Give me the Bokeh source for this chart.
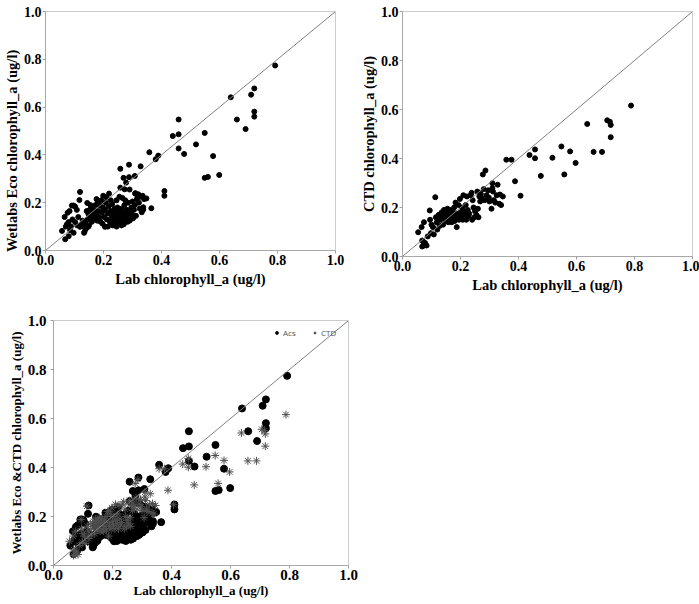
from bokeh.plotting import figure
from bokeh.layouts import column, row
from bokeh.models import Range1d, FixedTicker, PrintfTickFormatter, Slope, Legend, LegendItem
from bokeh.embed import file_html
from bokeh.resources import INLINE

# ---------------- data ----------------
eco_points = [
    (0.792, 0.774), (0.720, 0.678), (0.709, 0.652), (0.720, 0.581), (0.720, 0.560),
    (0.639, 0.641), (0.660, 0.548), (0.690, 0.508), (0.549, 0.492), (0.519, 0.444),
    (0.578, 0.395), (0.549, 0.304), (0.560, 0.308), (0.599, 0.316), (0.459, 0.548),
    (0.459, 0.486), (0.439, 0.479), (0.459, 0.427), (0.478, 0.404), (0.358, 0.411),
    (0.380, 0.382), (0.389, 0.397), (0.410, 0.249), (0.410, 0.229), (0.365, 0.177),
    (0.348, 0.218), (0.337, 0.181), (0.337, 0.171), (0.328, 0.352), (0.288, 0.359),
    (0.258, 0.342), (0.288, 0.307), (0.308, 0.312), (0.269, 0.304), (0.278, 0.284),
    (0.258, 0.263), (0.273, 0.256), (0.290, 0.255), (0.309, 0.238), (0.318, 0.233),
    (0.335, 0.229),
    (0.057, 0.082), (0.068, 0.047), (0.080, 0.060), (0.066, 0.140), (0.074, 0.110),
    (0.080, 0.119), (0.076, 0.158), (0.085, 0.085), (0.097, 0.074), (0.091, 0.188),
    (0.097, 0.188), (0.102, 0.184), (0.108, 0.170), (0.117, 0.211), (0.119, 0.245),
    (0.102, 0.119), (0.110, 0.105), (0.119, 0.099), (0.088, 0.100), (0.070, 0.100),
    (0.093, 0.130), (0.083, 0.165), (0.113, 0.140),
    (0.131, 0.101), (0.140, 0.092), (0.133, 0.074), (0.135, 0.080), (0.144, 0.199),
    (0.148, 0.153), (0.156, 0.140), (0.165, 0.147), (0.159, 0.181), (0.170, 0.167),
    (0.180, 0.208), (0.188, 0.188), (0.125, 0.110), (0.128, 0.125), (0.138, 0.115),
    (0.145, 0.130), (0.150, 0.105), (0.152, 0.170), (0.160, 0.120), (0.162, 0.160),
    (0.168, 0.135), (0.172, 0.190), (0.175, 0.150), (0.178, 0.125), (0.182, 0.165),
    (0.185, 0.140), (0.190, 0.120), (0.192, 0.210), (0.195, 0.160), (0.198, 0.180),
    (0.142, 0.165), (0.155, 0.190), (0.176, 0.215), (0.148, 0.100),
    (0.199, 0.229), (0.210, 0.222), (0.205, 0.099), (0.197, 0.112), (0.219, 0.238),
    (0.202, 0.140), (0.205, 0.170), (0.208, 0.200), (0.212, 0.130), (0.215, 0.155),
    (0.218, 0.185), (0.222, 0.120), (0.225, 0.165), (0.228, 0.140), (0.230, 0.195),
    (0.232, 0.105), (0.235, 0.150), (0.238, 0.175), (0.240, 0.125), (0.242, 0.160),
    (0.245, 0.140), (0.248, 0.180), (0.250, 0.110), (0.252, 0.130), (0.255, 0.165),
    (0.258, 0.150), (0.260, 0.120), (0.262, 0.175), (0.265, 0.140), (0.268, 0.160),
    (0.270, 0.110), (0.272, 0.190), (0.275, 0.130), (0.278, 0.150), (0.280, 0.170),
    (0.283, 0.120), (0.285, 0.200), (0.288, 0.140), (0.290, 0.160), (0.293, 0.130),
    (0.296, 0.180), (0.298, 0.150), (0.245, 0.210), (0.255, 0.225), (0.265, 0.220),
    (0.275, 0.210), (0.225, 0.210), (0.215, 0.100), (0.235, 0.120), (0.262, 0.105),
    (0.245, 0.100), (0.270, 0.145), (0.290, 0.125),
    (0.300, 0.205), (0.305, 0.170), (0.308, 0.190), (0.312, 0.145), (0.315, 0.215),
    (0.318, 0.230), (0.322, 0.200), (0.325, 0.175), (0.328, 0.225), (0.332, 0.160),
    (0.302, 0.135), (0.310, 0.240), (0.320, 0.235), (0.340, 0.215),
]

ctd_points = [
    (0.788, 0.616), (0.706, 0.556), (0.715, 0.550), (0.718, 0.537), (0.718, 0.487),
    (0.637, 0.541), (0.659, 0.427), (0.688, 0.427), (0.548, 0.449), (0.578, 0.429),
    (0.597, 0.382), (0.517, 0.403), (0.558, 0.335), (0.477, 0.329), (0.457, 0.437),
    (0.457, 0.401), (0.438, 0.414), (0.388, 0.307), (0.407, 0.248), (0.358, 0.395),
    (0.376, 0.395),
    (0.054, 0.099), (0.066, 0.120), (0.074, 0.140), (0.068, 0.065), (0.074, 0.045),
    (0.083, 0.045), (0.068, 0.041), (0.087, 0.082), (0.078, 0.055), (0.072, 0.060),
    (0.094, 0.188), (0.095, 0.150), (0.100, 0.130), (0.098, 0.095), (0.105, 0.120),
    (0.108, 0.090), (0.113, 0.242), (0.115, 0.160), (0.118, 0.140), (0.120, 0.110),
    (0.125, 0.170), (0.128, 0.125), (0.130, 0.150), (0.135, 0.180), (0.138, 0.160),
    (0.140, 0.130), (0.143, 0.190), (0.145, 0.170), (0.148, 0.145), (0.150, 0.185),
    (0.153, 0.160), (0.155, 0.195), (0.158, 0.140), (0.160, 0.175), (0.163, 0.190),
    (0.165, 0.150), (0.168, 0.165), (0.170, 0.140), (0.173, 0.185), (0.175, 0.160),
    (0.178, 0.200), (0.180, 0.145), (0.183, 0.220), (0.185, 0.175), (0.187, 0.120),
    (0.190, 0.160), (0.193, 0.210), (0.195, 0.150), (0.198, 0.235), (0.200, 0.180),
    (0.203, 0.165), (0.205, 0.200), (0.208, 0.150), (0.210, 0.250), (0.212, 0.185),
    (0.215, 0.170), (0.218, 0.210), (0.220, 0.150), (0.222, 0.245), (0.225, 0.190),
    (0.228, 0.165), (0.230, 0.175), (0.235, 0.250), (0.238, 0.260), (0.240, 0.150),
    (0.242, 0.230), (0.245, 0.200), (0.248, 0.160), (0.250, 0.185), (0.255, 0.170),
    (0.258, 0.265), (0.260, 0.195), (0.262, 0.160), (0.265, 0.245), (0.268, 0.225),
    (0.270, 0.255), (0.272, 0.240), (0.277, 0.335), (0.280, 0.275), (0.283, 0.230),
    (0.286, 0.351), (0.290, 0.250), (0.298, 0.240), (0.307, 0.195), (0.310, 0.299),
    (0.310, 0.279), (0.312, 0.265), (0.315, 0.230), (0.320, 0.220), (0.325, 0.250),
    (0.328, 0.293), (0.334, 0.215), (0.336, 0.253), (0.346, 0.245), (0.340, 0.210),
    (0.300, 0.225), (0.295, 0.270),
]

lab_eco = [p[0] for p in eco_points]
eco = [p[1] for p in eco_points]
lab_ctd = [p[0] for p in ctd_points]
ctd = [p[1] for p in ctd_points]

tick_values = [0.0, 0.2, 0.4, 0.6, 0.8, 1.0]
x_label = "Lab chlorophyll_a (ug/l)"
y_labels = ["Wetlabs Eco chlorophyll_a (ug/l)", "CTD chlorophyll_a (ug/l)",
            "Wetlabs Eco &CTD chlorophyll_a (ug/l)"]
legend_labels = ["Acs", "CTD"]

SERIF = "Liberation Serif"


def make_fig(w, h, left, right, top, bottom, ylab, tick_size="14px", lab_size="14.5px",
             y_tick_standoff=1, x_lab_standoff=3):
    p = figure(width=w, height=h, output_backend="svg", toolbar_location=None,
               x_range=Range1d(0, 1), y_range=Range1d(0, 1),
               min_border_left=left, min_border_right=right,
               min_border_top=top, min_border_bottom=bottom)
    p.background_fill_color = "white"
    p.border_fill_color = "white"
    p.outline_line_color = "#cccccc"
    p.outline_line_width = 1
    p.xgrid.visible = False
    p.ygrid.visible = False
    for ax in (p.xaxis[0], p.yaxis[0]):
        ax.ticker = FixedTicker(ticks=tick_values)
        ax.formatter = PrintfTickFormatter(format="%.1f")
        ax.major_tick_line_color = "#a0a0a0"
        ax.minor_tick_line_color = None
        ax.major_tick_out = 3
        ax.major_tick_in = 0
        ax.axis_line_color = "#a8a8a8"
        ax.major_label_text_font = SERIF
        ax.major_label_text_font_style = "bold"
        ax.major_label_text_font_size = tick_size
        ax.major_label_text_color = "black"
        ax.axis_label_text_font = SERIF
        ax.axis_label_text_font_style = "bold"
        ax.axis_label_text_font_size = lab_size
        ax.axis_label_text_color = "black"
    p.xaxis.major_label_standoff = 1
    p.xaxis.axis_label_standoff = x_lab_standoff
    p.yaxis.major_label_standoff = y_tick_standoff
    p.yaxis.axis_label_standoff = 1
    p.xaxis.axis_label = x_label
    p.yaxis.axis_label = ylab
    p.add_layout(Slope(gradient=1, y_intercept=0, line_color="#808080", line_width=1))
    return p


# the first panel's y title sits lower than the axis centre; trailing no-break
# spaces move the centred title downwards
p1 = make_fig(357, 292, 42, 22, 7, 42, y_labels[0] + "\u00a0" * 11)
p1.scatter(lab_eco, eco, size=5, marker="circle", fill_color="black", line_color="black")

p2 = make_fig(342, 298, 41, 7, 11, 42, y_labels[1])
p2.scatter(lab_ctd, ctd, size=5, marker="circle", fill_color="black", line_color="black")

p3 = make_fig(360, 304, 53, 12, 22, 37, y_labels[2], tick_size="15px", lab_size="13px",
              y_tick_standoff=4, x_lab_standoff=0)
r_acs = p3.scatter(lab_eco, eco, size=7, marker="circle", fill_color="black", line_color="black")
r_ctd = p3.scatter(lab_ctd, ctd, size=8, marker="asterisk", line_color="#505050", line_width=1)

legend = Legend(items=[LegendItem(label=legend_labels[0], renderers=[r_acs]),
                       LegendItem(label=legend_labels[1], renderers=[r_ctd])],
                location="top_right", orientation="horizontal",
                label_text_font="Open Sans", label_text_font_size="8px",
                label_text_color="#555555", glyph_width=7, glyph_height=7,
                label_standoff=3, spacing=8, padding=2, margin=5,
                border_line_alpha=0, background_fill_alpha=0)
p3.add_layout(legend)

layout = column(row(p1, p2), p3)

open("out.html", "w").write(file_html(layout, INLINE))
